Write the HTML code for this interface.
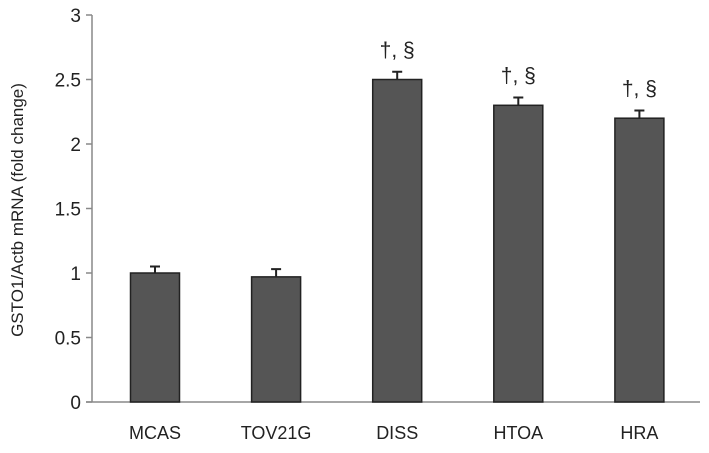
<!DOCTYPE html>
<html><head><meta charset="utf-8"><style>
body{margin:0;background:#fff;}
svg text{font-family:"Liberation Sans",Arial,sans-serif;fill:#222;}
</style></head><body>
<svg width="709" height="448">
<g id="g"></g>
</svg>
<script>
const categories=["MCAS","TOV21G","DISS","HTOA","HRA"];
const values=[1.0,0.97,2.5,2.3,2.2];
const errors=[0.05,0.06,0.06,0.06,0.06];
const annotations=["","","†, §","†, §","†, §"];
const ticks=[0,0.5,1,1.5,2,2.5,3];
const tickLabels=["0","0.5","1","1.5","2","2.5","3"];
const NS="http://www.w3.org/2000/svg";
const g=document.getElementById('g');
const x0=92,yBase=402,yTop=15;
const yS=v=>yBase-(yBase-yTop)*v/3;
const xC=i=>155+i*121.1;
const bw=49;
function mk(t,a){const e=document.createElementNS(NS,t);for(const k in a)e.setAttribute(k,a[k]);g.appendChild(e);return e;}
let e=mk('line',{x1:x0,y1:yTop,x2:x0,y2:yBase,stroke:'#888','stroke-width':1.5});


e=mk('line',{x1:86,y1:yBase,x2:700,y2:yBase,stroke:'#888','stroke-width':1.5});


ticks.forEach((t,i)=>{
 let l=mk('line',{x1:86,x2:x0,y1:yS(t),y2:yS(t),stroke:'#888','stroke-width':1.5});
 
 
 let tx=mk('text',{x:81,y:yS(t)+7,'text-anchor':'end','font-size':19});
 tx.textContent=tickLabels[i];
 
 
});
categories.forEach((c,i)=>{
 const cx=xC(i);
 let r=mk('rect',{x:cx-bw/2,y:yS(values[i]),width:bw,height:yBase-yS(values[i]),fill:'#555',stroke:'#222','stroke-width':1.5});
 
 
 const et=yS(values[i]+errors[i]);
 let el=mk('path',{d:`M${cx} ${yS(values[i])}V${et}M${cx-5} ${et}H${cx+5}`,stroke:'#222','stroke-width':2,fill:'none'});
 
 
 let lb=mk('text',{x:cx,y:439,'text-anchor':'middle','font-size':18});
 lb.textContent=c;
 
 
 if(annotations[i]){
  let a=mk('text',{x:cx,y:et-15,'text-anchor':'middle','font-size':21});
  a.textContent=annotations[i];
  
  
 }
});
let yt=mk('text',{x:0,y:0,'text-anchor':'middle','font-size':17,transform:'translate(23,210) rotate(-90)'});
yt.textContent='GSTO1/Actb mRNA (fold change)';


</script>
</body></html>
